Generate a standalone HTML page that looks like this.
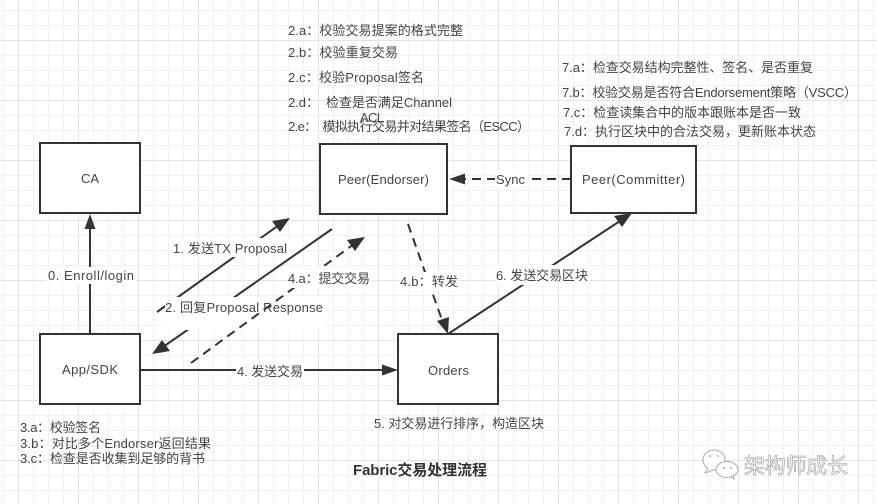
<!DOCTYPE html>
<html><head><meta charset="utf-8">
<style>
html,body{margin:0;padding:0;background:#fff}
svg{display:block}
text{font-family:"Liberation Sans","Noto Sans CJK SC",sans-serif;font-size:13px;fill:#444;white-space:pre}
</style></head><body>
<svg width="877" height="504" viewBox="0 0 877 504" xmlns="http://www.w3.org/2000/svg">
<defs>
<pattern id="minor" x="3" y="10" width="15" height="15" patternUnits="userSpaceOnUse">
<path d="M0.5 0V15M0 0.5H15" stroke="#f1f1f1" stroke-width="1" fill="none"/>
</pattern>
<pattern id="major" x="18" y="40" width="60" height="60" patternUnits="userSpaceOnUse">
<path d="M0.5 0V60M0 0.5H60" stroke="#e4e4e4" stroke-width="1" fill="none"/>
</pattern>
</defs>
<rect width="877" height="504" fill="#fff"/>
<rect width="877" height="504" fill="url(#minor)"/>
<rect width="877" height="504" fill="url(#major)"/>

<g fill="#fff" stroke="#333" stroke-width="2">
<rect x="40" y="143" width="100" height="70"/>
<rect x="320" y="144" width="127" height="70"/>
<rect x="571" y="146" width="125" height="67"/>
<rect x="40" y="334" width="100" height="70"/>
<rect x="398" y="334" width="100" height="70"/>
</g>

<g stroke="#333" stroke-width="2" fill="none">
<path d="M90 334V228"/>
<path d="M157 312L279 225"/>
<path d="M332 229L163 347"/>
<path d="M140 370H384"/>
<path d="M448 334L620 221"/>
</g>
<g fill="#333">
<path d="M90 214L95.500 229H84.500Z"/>
<path d="M290 218L280 232L272 221Z"/>
<path d="M152 354L162 340L170 351Z"/>
<path d="M398 370L382 375.500V364.500Z"/>
<path d="M632 213L622 227L614 216Z"/>
</g>

<g fill="#fff">
<rect x="46" y="267" width="90" height="17"/>
<rect x="171" y="238" width="118" height="19"/>
<rect x="165" y="297" width="160" height="33"/>
</g>

<g stroke="#333" stroke-width="2" fill="none" stroke-dasharray="9 6">
<path d="M191 363L354 244"/>
<path d="M571 179H462"/>
<path d="M408 224L442 320"/>
</g>
<g fill="#333">
<path d="M365 237L355 251L347 240Z"/>
<path d="M449 179L465 173.500V184.500Z"/>
<path d="M448 334L437 321L449 317Z"/>
</g>

<g fill="#fff">
<rect x="288" y="268" width="84" height="20"/>
<rect x="236" y="361" width="68" height="19"/>
<rect x="495" y="170" width="32" height="18"/>
<rect x="399" y="272" width="60" height="18"/>
<rect x="495" y="265" width="94" height="20"/>
</g>

<text x="360" y="122" textLength="24">ACL</text>
<text x="288" y="35" textLength="175">2.a：校验交易提案的格式完整</text>
<text x="288" y="57" textLength="110">2.b：校验重复交易</text>
<text x="288" y="82" textLength="136">2.c：校验Proposal签名</text>
<text x="288" y="107" textLength="164">2.d：  检查是否满足Channel</text>
<text x="288" y="131" textLength="242">2.e：  模拟执行交易并对结果签名（ESCC）</text>

<text x="562" y="72" textLength="251">7.a：检查交易结构完整性、签名、是否重复</text>
<text x="562" y="97" textLength="295">7.b：校验交易是否符合Endorsement策略（VSCC）</text>
<text x="563" y="117" textLength="238">7.c：检查读集合中的版本跟账本是否一致</text>
<text x="564" y="136" textLength="252">7.d：执行区块中的合法交易，更新账本状态</text>

<text x="81" y="183" textLength="18">CA</text>
<text x="338" y="184" textLength="91">Peer(Endorser)</text>
<text x="582" y="184" textLength="103">Peer(Committer)</text>
<text x="62" y="374" textLength="56">App/SDK</text>
<text x="428" y="375" textLength="41">Orders</text>

<text x="48" y="280" textLength="86">0. Enroll/login</text>
<text x="173" y="253" textLength="114">1. 发送TX Proposal</text>
<text x="165" y="312" textLength="158">2. 回复Proposal Response</text>
<text x="288" y="283" textLength="82">4.a：提交交易</text>
<text x="237" y="376" textLength="66">4. 发送交易</text>
<text x="400" y="286" textLength="58">4.b：转发</text>
<text x="496" y="280" textLength="92">6. 发送交易区块</text>
<text x="496" y="184" textLength="29">Sync</text>

<text x="20" y="432" textLength="81">3.a：校验签名</text>
<text x="20" y="448" textLength="191">3.b：对比多个Endorser返回结果</text>
<text x="20" y="463" textLength="185">3.c：检查是否收集到足够的背书</text>
<text x="374" y="428" textLength="170">5. 对交易进行排序，构造区块</text>

<text x="353" y="475" textLength="134" style="font-weight:bold;fill:#333;font-size:15px">Fabric交易处理流程</text>

<g fill="#fff" stroke="#aaa" stroke-width="1">
<ellipse cx="714" cy="460" rx="11" ry="10"/>
<path d="M708 468L705 473L713 470"/>
<ellipse cx="727" cy="469.500" rx="11" ry="8"/>
<path d="M731 476L734 479L733 474"/>
</g>
<circle cx="710" cy="456" r="1" fill="#aaa"/>
<circle cx="718" cy="456" r="1" fill="#aaa"/>
<circle cx="724" cy="468" r="1" fill="#aaa"/>
<circle cx="731" cy="468" r="1" fill="#aaa"/>
<text x="744" y="473" textLength="104" style="font-size:21px;fill:#fff;stroke:#999;stroke-width:0.6">架构师成长</text>
</svg>
</body></html>
